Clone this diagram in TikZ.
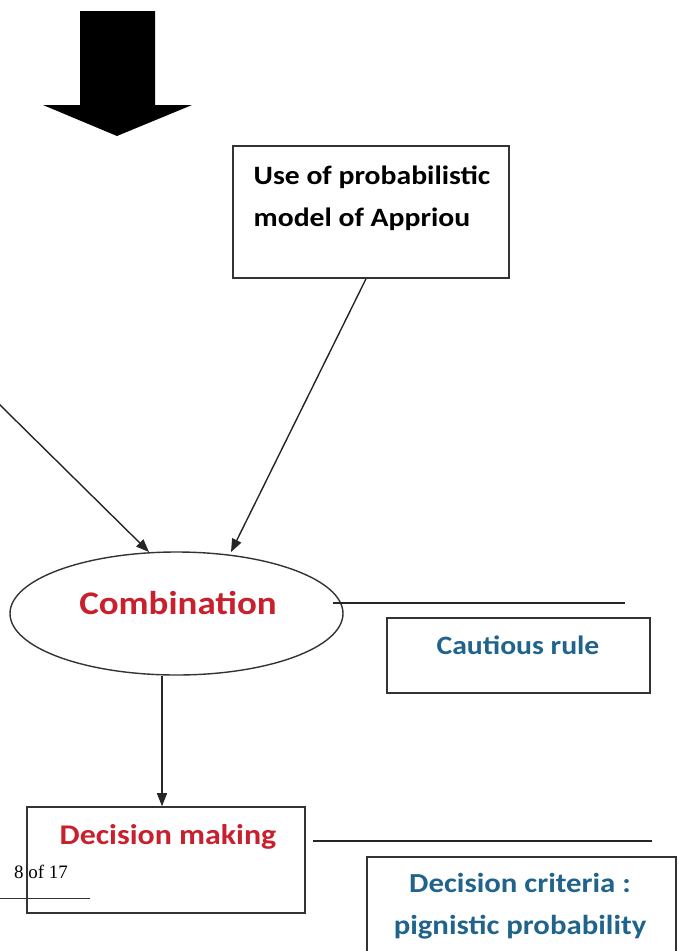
\documentclass[tikz,border=0pt]{standalone}
\usepackage{fontspec}
\setmainfont{Carlito}[FakeStretch=1.12]
\newfontfamily\timesf{Liberation Serif}
\usetikzlibrary{arrows.meta,shapes.geometric}
\definecolor{cred}{RGB}{200,32,44}
\definecolor{cblue}{RGB}{32,100,140}
\tikzset{
  boxnode/.style={draw=black!80, line width=1.6pt, rectangle, inner sep=0pt},
  lbl/.style={font=\bfseries\fontsize{26.5}{42}\selectfont, align=center, inner sep=0pt},
  conn/.style={draw=black!85, line width=1.4pt, -{Triangle[length=13pt,width=10pt]}},
  plainline/.style={draw=black!85, line width=1.4pt},
}
\begin{document}
\begin{tikzpicture}[x=1pt,y=-1pt]
\useasboundingbox (0,0) rectangle (679,951);
% big block arrow
\fill[black] (80,11) -- (155,11) -- (155,105) -- (192,105) -- (117,136) -- (43,105) -- (80,105) -- cycle;
% Use box
\node[boxnode, minimum width=276pt, minimum height=132pt] (use) at (371,212) {};
\node[lbl, align=left, text=black] (usetext) at (372,198) {Use of probabilistic\\model of Appriou};
% Combination ellipse
\node[ellipse, draw=black!80, line width=1.4pt, minimum width=333pt, minimum height=123pt, inner sep=0pt] (comb) at (176.5,613.5) {};
\node[lbl, text=cred, font=\bfseries\fontsize{33}{36}\selectfont] (combtext) at (178,603) {Combination};
% left free connector
\coordinate (leftin) at (-2,403);
\coordinate (combL) at (149,552);
\coordinate (combR) at (231,552);
\draw[conn] (leftin) -- (combL);
\draw[conn] (use.south -| 366,0) -- (combR);
% cautious rule
\coordinate (combEnd) at (625,603);
\draw[plainline] (333,603) -- (combEnd);
\node[boxnode, minimum width=263pt, minimum height=75pt] (caut) at (518.5,655.5) {};
\node[lbl, text=cblue] (cauttext) at (518,645) {Cautious rule};
% decision making
\node[boxnode, minimum width=278pt, minimum height=106pt] (dec) at (166,860) {};
\node[lbl, text=cred, font=\bfseries\fontsize{28.5}{30}\selectfont] (dectext) at (168,837) {Decision making};
\draw[conn] (comb.south -| dec.north) ++(-4,0) coordinate (cb) (cb) -- (dec.north -| cb);
% decision criteria
\coordinate (decEnd) at (652,841);
\draw[plainline] (dec.east |- 0,841) ++(7,0) -- (decEnd);
\node[boxnode, minimum width=309pt, minimum height=110pt] (crit) at (521.5,912) {};
\node[lbl, text=cblue, font=\bfseries\fontsize{27.5}{42}\selectfont] (crittext) at (520,906) {Decision criteria :\\pignistic probability};
% page footer
\node[font=\timesf\fontsize{19}{22}\selectfont, inner sep=0pt] (page) at (41,872) {8 of 17};
\coordinate (fl) at (0,898);
\coordinate (fr) at (90,898);
\draw[black!80, line width=0.8pt] (fl) -- (fr);
\end{tikzpicture}
\end{document}
